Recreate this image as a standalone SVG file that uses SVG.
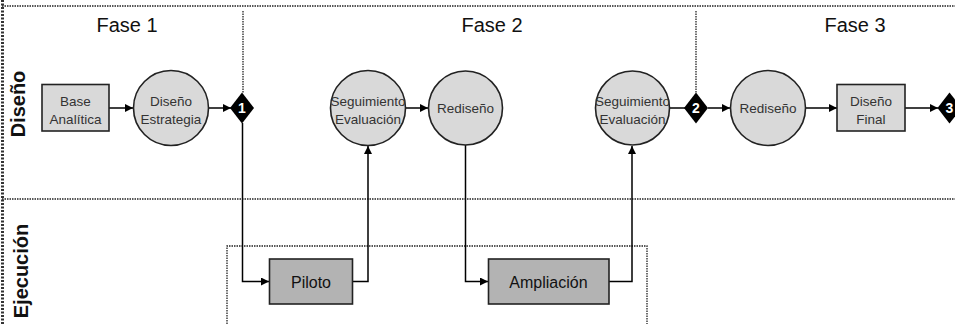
<svg xmlns="http://www.w3.org/2000/svg" width="955" height="324" viewBox="0 0 955 324">
<defs>
<marker id="arr" viewBox="0 0 10 10" refX="10" refY="5" markerWidth="9" markerHeight="8" markerUnits="userSpaceOnUse" orient="auto"><path d="M0,0 L10,5 L0,10 Z" fill="#000"/></marker>
</defs>
<style>
.frame{fill:none;stroke:#222;stroke-width:1.3;stroke-dasharray:1.5 1}
.lbord{fill:none;stroke:#333;stroke-width:3;stroke-dasharray:2 1.5}
.phase{font-family:"Liberation Sans",Arial,sans-serif;font-size:20px;fill:#111;text-anchor:middle}
.lane{font-family:"Liberation Sans",Arial,sans-serif;font-size:20px;font-weight:bold;fill:#111;text-anchor:middle}
.light{fill:#d9d9d9;stroke:#222;stroke-width:1.6}
.dark{fill:#b3b3b3;stroke:#222;stroke-width:1.6}
.t{font-family:"Liberation Sans",Arial,sans-serif;font-size:13.5px;fill:#333;text-anchor:middle}
.tb{font-family:"Liberation Sans",Arial,sans-serif;font-size:16px;fill:#111;text-anchor:middle}
.dia{fill:#000}
.num{font-family:"Liberation Sans",Arial,sans-serif;font-size:14px;font-weight:bold;fill:#fff;text-anchor:middle}
.c{fill:none;stroke:#000;stroke-width:1.5}
</style>
<g id="frame">
<line class="lbord" x1="2.5" y1="0" x2="2.5" y2="324"/>
<line class="frame" x1="2" y1="6" x2="955" y2="6"/>
<line class="frame" x1="2" y1="199" x2="955" y2="199"/>
<line class="frame" x1="243" y1="11" x2="243" y2="93"/>
<line class="frame" x1="696" y1="11" x2="696" y2="93"/>
<path class="frame" d="M227,324 V246 H647 V324"/>
<text class="phase" x="127" y="32">Fase 1</text>
<text class="phase" x="492" y="32">Fase 2</text>
<text class="phase" x="855" y="32">Fase 3</text>
<text class="lane" transform="translate(25,104) rotate(-90)">Diseño</text>
<text class="lane" transform="translate(28,271) rotate(-90)">Ejecución</text>
</g>
<g id="connectors">
<line class="c" x1="109" y1="108" x2="133" y2="108" marker-end="url(#arr)"/>
<line class="c" x1="209" y1="108" x2="231" y2="108" marker-end="url(#arr)"/>
<line class="c" x1="406" y1="108" x2="428" y2="108" marker-end="url(#arr)"/>
<line class="c" x1="670" y1="108" x2="685" y2="108"/>
<line class="c" x1="708" y1="108" x2="730" y2="108" marker-end="url(#arr)"/>
<line class="c" x1="806" y1="108" x2="837" y2="108" marker-end="url(#arr)"/>
<line class="c" x1="905" y1="108" x2="938" y2="108" marker-end="url(#arr)"/>
<path class="c" d="M242.5,123 V281.5 H269" marker-end="url(#arr)"/>
<path class="c" d="M353,281.5 H368 V146" marker-end="url(#arr)"/>
<path class="c" d="M465.5,145 V281.5 H488" marker-end="url(#arr)"/>
<path class="c" d="M609,281.5 H632 V146" marker-end="url(#arr)"/>
</g>
<g id="base">
<rect class="light" x="42" y="84.5" width="67" height="46.5"/>
<text class="t" x="75.5" y="106">Base</text>
<text class="t" x="75.5" y="124">Analítica</text>
</g>
<g id="estrategia">
<circle class="light" cx="171" cy="108" r="37.5"/>
<text class="t" x="171" y="106">Diseño</text>
<text class="t" x="171" y="124">Estrategia</text>
</g>
<g id="d1">
<path class="dia" d="M242,92.5 L254,108 L242,123.5 L230,108 Z"/>
<text class="num" x="242" y="113">1</text>
</g>
<g id="seg1">
<circle class="light" cx="368" cy="108" r="37.5"/>
<text class="t" x="368" y="106">Seguimiento</text>
<text class="t" x="368" y="124">Evaluación</text>
</g>
<g id="redis1">
<circle class="light" cx="465.5" cy="108" r="37"/>
<text class="t" x="465.5" y="113">Rediseño</text>
</g>
<g id="seg2">
<circle class="light" cx="632.5" cy="108" r="37"/>
<text class="t" x="632.5" y="106">Seguimiento</text>
<text class="t" x="632.5" y="124">Evaluación</text>
</g>
<g id="d2">
<path class="dia" d="M696,92.5 L708,108 L696,123.5 L684,108 Z"/>
<text class="num" x="696" y="113">2</text>
</g>
<g id="redis2">
<circle class="light" cx="768" cy="108" r="37.5"/>
<text class="t" x="768" y="113">Rediseño</text>
</g>
<g id="final">
<rect class="light" x="837" y="84.5" width="68" height="46.5"/>
<text class="t" x="871" y="106">Diseño</text>
<text class="t" x="871" y="124">Final</text>
</g>
<g id="d3">
<path class="dia" d="M949.5,92.5 L961.5,108 L949.5,123.5 L937.5,108 Z"/>
<text class="num" x="949.5" y="113">3</text>
</g>
<g id="piloto">
<rect class="dark" x="269.5" y="259" width="83" height="45"/>
<text class="tb" x="311" y="288">Piloto</text>
</g>
<g id="ampliacion">
<rect class="dark" x="488.5" y="259" width="120.5" height="45"/>
<text class="tb" x="548.5" y="288">Ampliación</text>
</g>
</svg>
